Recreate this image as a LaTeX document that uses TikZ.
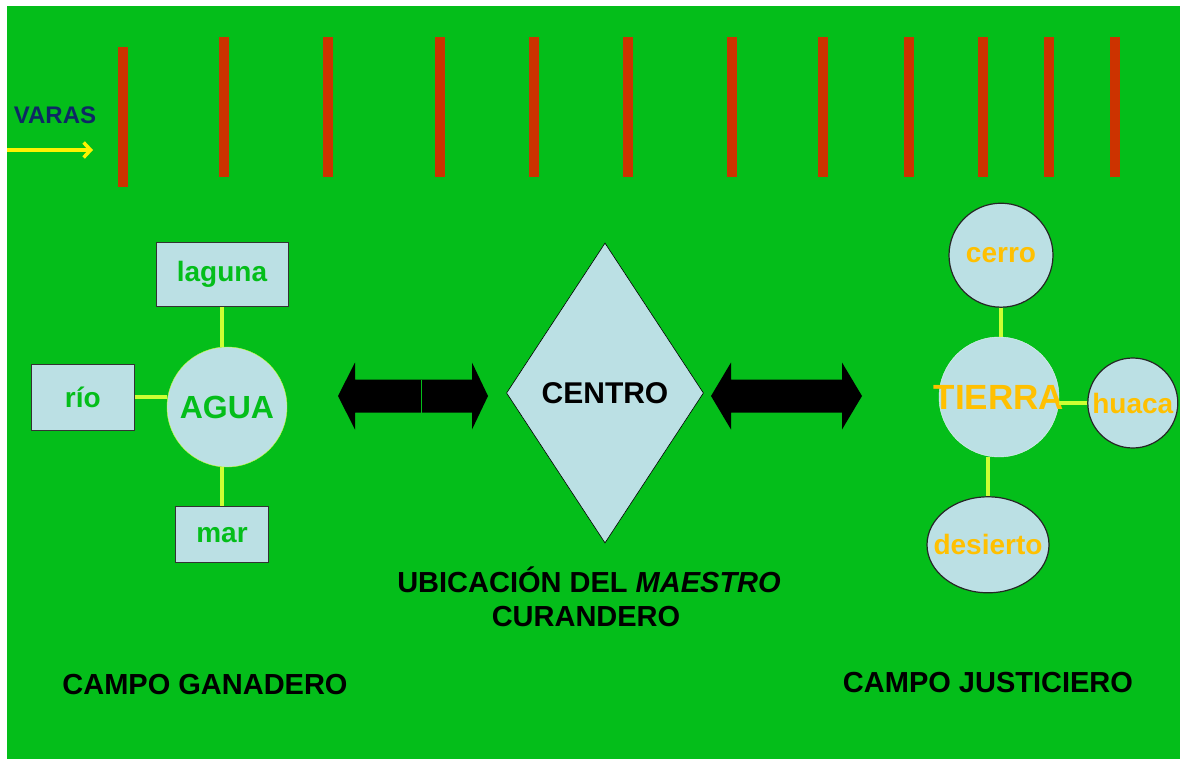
\documentclass[tikz,border=0pt]{standalone}
\usepackage{fontspec}
\setmainfont{Liberation Sans}
\usetikzlibrary{shapes.geometric,positioning,arrows.meta}
\definecolor{campo}{RGB}{4,190,26}
\definecolor{vara}{RGB}{204,51,0}
\definecolor{celeste}{RGB}{187,224,228}
\definecolor{lima}{RGB}{204,255,51}
\definecolor{oro}{RGB}{255,192,0}
\definecolor{marino}{RGB}{14,40,100}
\newcommand{\letra}[1]{\bfseries\fontsize{#1}{#1}\selectfont}
% block arrow: left tip, left head base, right head base, right tip
\newcommand{\flecha}[4]{%
  \fill (#1,396) -- (#2,362.5) -- (#2,379.5) -- (#3,379.5) -- (#3,362.5)
    -- (#4,396) -- (#3,429.5) -- (#3,412.5) -- (#2,412.5) -- (#2,429.5) -- cycle;}

\begin{document}
\begin{tikzpicture}[%
    x=1pt, y=-1pt,              % pixel grid, top down
    node distance=40pt,         % default gap between boxes
    ]
\tikzset{
  base/.style={draw, fill=celeste, inner sep=0pt, font=\letra{28}},
  caja/.style={base, rectangle, text=campo, draw=black!80, line width=1pt},
  disco/.style={base, circle, text=oro, draw=black!85, line width=1.2pt},
  lazo/.style={draw=lima, line width=4pt},
  rotulo/.style={inner sep=0pt, font=\letra{#1}},
}

\fill [white] (0,0) rectangle (1180,762);
\fill [campo] (7,6) rectangle (1180,759);
\useasboundingbox (0,0) rectangle (1180,762);

% varas
\fill [vara] (118,47) rectangle (128,187);
\foreach \x in {224,328,440,534,628,732,823,909,983,1049,1115}
  \fill [vara] (\x-5,37) rectangle (\x+5,177);
\node [rotulo=24, text=marino] (v0) at (55,115) {VARAS};
\coordinate (v1) at (7,150);
\coordinate (v2) at (93,150);
\draw [yellow, line width=3.5pt, -{Straight Barb[length=7pt,width=15pt]}] (v1) -- (v2);

% campo ganadero
\node [base, circle, minimum size=120pt, draw=lima, text=campo, font=\letra{32}] (a0) at (227,407) {\makebox[0pt]{AGUA}};
\node [caja, minimum width=132pt, minimum height=64pt, above=40pt of a0, xshift=-5pt] (a1) {laguna};
\node [caja, minimum width=103pt, minimum height=66pt, left=32pt of a0, yshift=10pt] (a2) {río};
\node [caja, minimum width=93pt, minimum height=56pt, below=39pt of a0, xshift=-5pt] (a3) {mar};

% centro
\node [base, diamond, minimum width=197pt, minimum height=300pt, line width=0.6pt, font=\letra{30}] (c0) at (605,393) {CENTRO};
\flecha{338}{355}{472}{488}
\draw [campo, line width=0.7pt] (421,379.5) -- (421,412.5);
\flecha{711}{731}{842}{862}

% campo justiciero
\node [base, circle, minimum size=120pt, draw=celeste!40!white, text=oro, font=\letra{35}] (t0) at (999,397) {\makebox[0pt]{TIERRA}};
\node [disco, minimum size=104pt, above=29pt of t0, xshift=2pt] (t1) {\makebox[0pt]{cerro}};
\node [disco, minimum size=90pt, right=28pt of t0, yshift=-6pt] (t2) {\makebox[0pt]{huaca}};
\node [disco, ellipse, minimum width=122pt, minimum height=96pt, below=39pt of t0, xshift=-11pt] (t3) {\makebox[0pt]{desierto}};

%connect
\draw [lazo] (a1.south) -- (a1.south |- a0.north);
\draw [lazo] (a2.east) -- (a2.east -| a0.west);
\draw [lazo] (a3.north) -- (a3.north |- a0.south);
\draw [lazo] (t1.south) -- (t1.south |- t0.north);
\draw [lazo] (t2.west -| t0.east) -- (t2.west);
\draw [lazo] (t3.north) -- (t3.north |- t0.south);

% rotulos
\node [rotulo=29, anchor=base] (u1) at (589,592) {UBICACIÓN DEL \textit{MAESTRO}};
\node [rotulo=29, anchor=base] (u2) at (586,626) {CURANDERO};
\node [rotulo=29] (g0) at (205,685) {CAMPO GANADERO};
\node [rotulo=29] (j0) at (988,683) {CAMPO JUSTICIERO};

\end{tikzpicture}
\end{document}
